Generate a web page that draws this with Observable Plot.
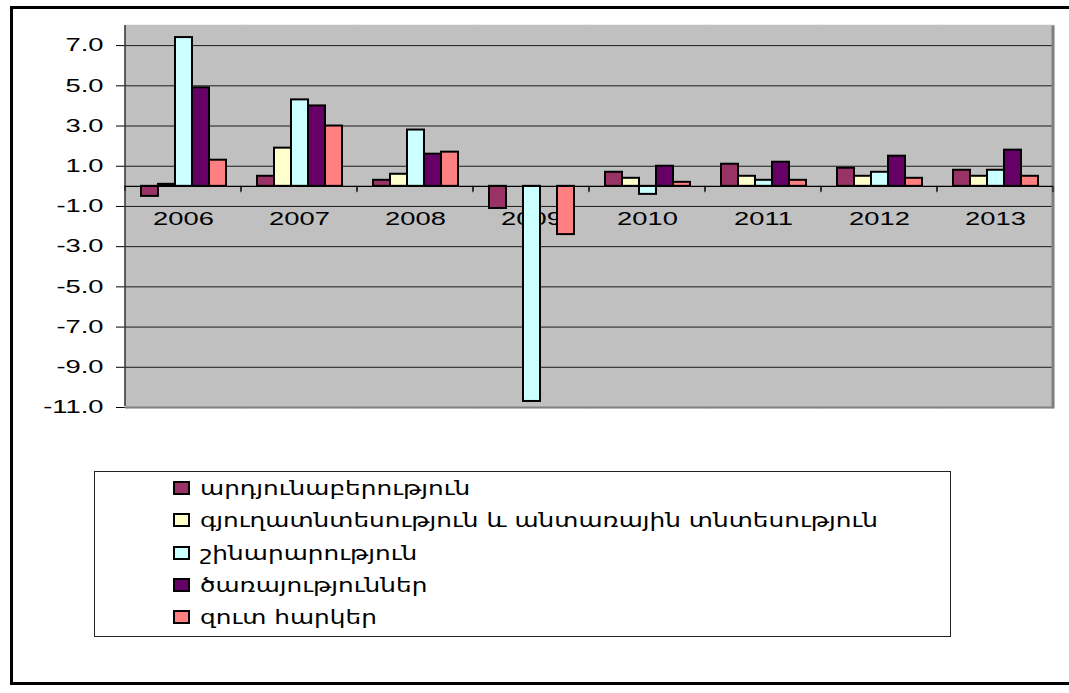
<!DOCTYPE html>
<html><head><meta charset="utf-8">
<script src="https://cdn.jsdelivr.net/npm/d3@7"></script>
<script src="https://cdn.jsdelivr.net/npm/@observablehq/plot@0.6"></script>
<style>
html,body{margin:0;padding:0;background:#fff;overflow:hidden;}
#wrap{position:relative;width:1069px;height:693px;overflow:hidden;}
#frame{position:absolute;left:10px;top:6px;width:1100px;height:679px;border:3px solid #000;box-sizing:border-box;}
#chart{position:absolute;left:0;top:0;}
#legend{position:absolute;left:94px;top:471px;width:857px;height:166px;border:1.5px solid #222;box-sizing:border-box;background:#fff;font-family:"DejaVu Sans";font-size:19px;color:#000;}
.item{position:absolute;left:78px;height:22px;display:flex;align-items:center;white-space:nowrap;}
.sw{width:13px;height:10px;border:2px solid #000;margin-right:10px;flex:none;}
.lbl{display:inline-block;transform-origin:left center;}
</style></head>
<body>
<div id="wrap"><div id="frame"></div><div id="chart"></div><div id="legend"></div></div>
<script>
const years = ["2006","2007","2008","2009","2010","2011","2012","2013"];
const seriesNames = [
  "արդյունաբերություն",
  "գյուղատնտեսություն և անտառային տնտեսություն",
  "շինարարություն",
  "ծառայություններ",
  "զուտ հարկեր"
];
const industry     = [-0.5, 0.5, 0.3, -1.1, 0.7, 1.1, 0.9, 0.8];
const agriculture  = [ 0.1, 1.9, 0.6,  0.0, 0.4, 0.5, 0.5, 0.5];
const construction = [ 7.4, 4.3, 2.8,-10.7,-0.4, 0.3, 0.7, 0.8];
const services     = [ 4.9, 4.0, 1.6,  0.0, 1.0, 1.2, 1.5, 1.8];
const netTaxes     = [ 1.3, 3.0, 1.7, -2.4, 0.2, 0.3, 0.4, 0.5];
const colors = ["#993366","#FFFFCC","#CCFFFF","#660066","#FF8080"];
const yTicks = [-11,-9,-7,-5,-3,-1,1,3,5,7];
const yDomain = [-11, 8];

const seriesValues = [industry, agriculture, construction, services, netTaxes];
const data = years.flatMap((yr, i) => seriesNames.map((s, j) => ({year: yr, series: s, value: seriesValues[j][i]})));

const W = 1069, H = 693, mL = 123, mT = 25, mR = 14, mB = 286;
const facetW = (W - mL - mR) / years.length;
const plotH = H - mT - mB;
const tickH = 0.3 * plotH / (yDomain[1] - yDomain[0]);

const chart = Plot.plot({
  width: W, height: H,
  marginLeft: mL, marginTop: mT, marginRight: mR, marginBottom: mB,
  style: {fontFamily: "'Liberation Sans', Arial, sans-serif", fontSize: "18px", color: "#000", background: "transparent"},
  fx: {domain: years, padding: 0, axis: null},
  x: {domain: seriesNames, paddingInner: 0, paddingOuter: 0.73, axis: null},
  y: {domain: yDomain, ticks: yTicks, tickFormat: d => d.toFixed(1), tickSize: 9, tickPadding: 13, label: null},
  color: {domain: seriesNames, range: colors},
  marks: [
    Plot.frame({fill: "#c0c0c0", stroke: "#c0c0c0", strokeWidth: 1.5}),
    Plot.ruleY(yTicks, {stroke: "#1a1a1a", strokeWidth: 1}),
    Plot.ruleY([yDomain[0]], {stroke: "#808080", strokeWidth: 2}),
    Plot.rect([years[years.length - 1]], {fx: d => d, y1: () => yDomain[0], y2: () => yDomain[1], fill: "none", stroke: "#808080", strokeWidth: 3,
      strokeDasharray: `0 ${facetW} ${plotH} ${facetW + plotH}`}),
    Plot.rect([years[0]], {fx: d => d, y1: () => yDomain[0], y2: () => yDomain[1], fill: "none", stroke: "#333", strokeWidth: 1.5,
      strokeDasharray: `0 ${2 * facetW + plotH} ${plotH}`}),
    Plot.text(years, {fx: d => d, y: () => 0, text: d => d, dy: 33, fill: "#000", fontSize: 18}),
    Plot.barY(data, {fx: "year", x: "series", y: "value", fill: "series", stroke: "black", strokeWidth: 2}),
    Plot.ruleY([0], {stroke: "#000", strokeWidth: 1.2}),
    Plot.rect([0], {y1: () => 0, y2: () => -0.3, fill: "none", stroke: "#000", strokeWidth: 1,
      strokeDasharray: `0 ${facetW} ${tickH} ${facetW} ${tickH}`})
  ]
});

function stretch(el, sx) {
  const x = +(el.getAttribute("x") || 0) || 0, y = +(el.getAttribute("y") || 0) || 0;
  const t = el.getAttribute("transform") || "";
  el.setAttribute("transform", `${t} translate(${x},${y}) scale(${sx},1) translate(${-x},${-y})`);
}
chart.querySelectorAll("text").forEach(t => stretch(t, 1.52));
document.getElementById("chart").appendChild(chart);

const legend = document.getElementById("legend");
const labels = [];
seriesNames.forEach((s, i) => {
  const it = document.createElement("div");
  it.className = "item";
  it.style.top = (5 + i * 32.3) + "px";
  const sw = document.createElement("div");
  sw.className = "sw";
  sw.style.background = colors[i];
  const lb = document.createElement("span");
  lb.className = "lbl";
  lb.textContent = s;
  it.appendChild(sw); it.appendChild(lb);
  legend.appendChild(it);
  labels.push(lb);
});
const natural = Math.max(...labels.map(l => l.getBoundingClientRect().width));
const sx = 678 / natural;
labels.forEach(l => l.style.transform = `scaleX(${sx})`);
</script>
</body></html>
